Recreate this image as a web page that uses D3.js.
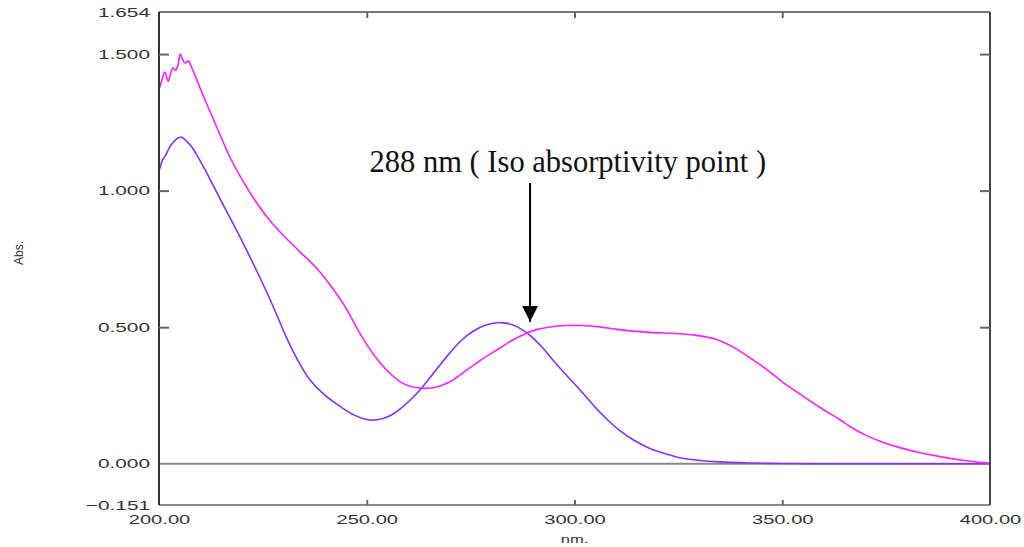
<!DOCTYPE html>
<html>
<head>
<meta charset="utf-8">
<script src="https://cdn.jsdelivr.net/npm/d3@7"></script>
<style>
  html, body { margin: 0; padding: 0; background: #fff; }
  svg { display: block; }
</style>
</head>
<body>
<div class="chart"></div>
<script>
// spectrum data (nm, absorbance)
const magentaNm = [200.0, 200.6, 201.4, 202.2, 202.8, 203.4, 204.0, 204.6, 205.1, 205.7, 206.3, 207.0, 207.9, 209.4,
  211.8, 214.2, 217.0, 220.0, 223.1, 226.2, 230.3, 234.0, 238.0, 241.9, 245.0, 247.7, 250.5, 253.2, 256.0, 258.5,
  261.1, 265.9, 270.0, 274.1, 278.0, 282.1, 285.0, 288.6, 291.0, 294.1, 298.0, 302.0, 306.0, 310.2, 318.2, 324.0,
  329.0, 334.0, 338.1, 342.0, 346.3, 350.0, 354.3, 359.0, 363.9, 367.0, 370.4, 374.0, 378.3, 383.0, 388.0, 393.0,
  398.3, 400.0];
const magentaAbs = [1.37, 1.40, 1.434, 1.40, 1.43, 1.45, 1.44, 1.46, 1.50, 1.48, 1.467, 1.475, 1.45, 1.394,
  1.306, 1.222, 1.125, 1.04, 0.965, 0.9, 0.83, 0.775, 0.715, 0.64, 0.57, 0.495, 0.425, 0.37, 0.325, 0.296,
  0.281, 0.278, 0.30, 0.344, 0.385, 0.424, 0.452, 0.479, 0.492, 0.501, 0.506, 0.506, 0.501, 0.492, 0.481, 0.477,
  0.471, 0.456, 0.428, 0.39, 0.345, 0.30, 0.255, 0.207, 0.161, 0.13, 0.102, 0.08, 0.059, 0.041, 0.026, 0.014,
  0.004, 0.002];

const purpleNm = [200.0, 200.8, 201.6, 202.6, 203.6, 204.6, 205.5, 206.3, 207.9, 209.5, 211.1, 213.0, 215.2,
  220.2, 226.0, 228.5, 230.8, 233.5, 236.3, 240.0, 243.6, 247.0, 250.0, 252.5, 255.6, 258.0, 262.1,
  266.0, 270.0, 273.0, 275.6, 278.5, 281.3, 283.5, 285.2, 287.3, 289.3, 292.0, 294.8, 298.0, 301.3, 304.5, 307.8,
  311.0, 314.1, 318.0, 322.3, 326.0, 330.2, 335.0, 339.8, 345.0, 350.0, 360.0, 380.0, 400.0];
const purpleAbs = [1.07, 1.11, 1.13, 1.16, 1.18, 1.193, 1.195, 1.186, 1.16, 1.12, 1.076, 1.02, 0.955,
  0.809, 0.626, 0.539, 0.458, 0.376, 0.308, 0.25, 0.21, 0.178, 0.162, 0.161, 0.176, 0.2, 0.258,
  0.33, 0.406, 0.455, 0.485, 0.507, 0.516, 0.515, 0.508, 0.492, 0.47, 0.43, 0.38, 0.325, 0.271, 0.215, 0.163,
  0.12, 0.088, 0.057, 0.035, 0.02, 0.012, 0.007, 0.004, 0.002, 0.001, 0, 0, 0];

// axis ticks
const yLabelTicks = [-0.151, 0, 0.5, 1.0, 1.5, 1.654];
const yInnerTicks = [0.5, 1.0, 1.5];
const xLabelTicks = [200, 250, 300, 350, 400];
const xInnerTicks = [250, 300, 350];

// annotation
const annoText = '288 nm ( Iso absorptivity point )';
const annoArrowNm = 289.3;
const annoArrowFrom = 1.028;
const annoArrowTo = 0.52;

const [width, height] = [1024, 547];
const margin = { top: 12, right: 34, bottom: 42, left: 159 };
const innerW = width - margin.left - margin.right;
const innerH = height - margin.top - margin.bottom;

const x = d3.scaleLinear().domain([200, 400]).range([0, innerW]);
const y = d3.scaleLinear().domain([-0.151, 1.654]).range([innerH, 0]);

const svg = d3.select('div.chart')
  .append('svg')
  .attr('width', width)
  .attr('height', height);

const g = svg.append('g').attr('transform', `translate(${margin.left},${margin.top})`);

// stretch label glyphs horizontally, like the instrument print-out
const stretch = (sel, k) => sel.each(function () {
  const len = this.getComputedTextLength();
  d3.select(this).attr('textLength', len * k).attr('lengthAdjust', 'spacingAndGlyphs');
});

// zero baseline
g.append('line')
  .attr('x1', 0).attr('x2', innerW)
  .attr('y1', y(0)).attr('y2', y(0))
  .attr('stroke', '#8a8a8a')
  .attr('stroke-width', 2);

// curves
const line = d3.line()
  .x(d => x(d[0]))
  .y(d => y(d[1]))
  .curve(d3.curveCatmullRom.alpha(0.5));

g.append('path')
  .datum(purpleNm.map((v, i) => [v, purpleAbs[i]]))
  .attr('d', line)
  .attr('fill', 'none')
  .attr('stroke', '#8433f5')
  .attr('stroke-width', 1.6);

g.append('path')
  .datum(magentaNm.map((v, i) => [v, magentaAbs[i]]))
  .attr('d', line)
  .attr('fill', 'none')
  .attr('stroke', '#ff20ff')
  .attr('stroke-width', 1.6);

// frame
const frameLines = [
  [0, 0, innerW, 0, '#777'],
  [0, innerH, innerW, innerH, '#888'],
  [0, 0, 0, innerH, '#333'],
  [innerW, 0, innerW, innerH, '#444']
];
g.selectAll('line.frame')
  .data(frameLines)
  .enter()
  .append('line')
  .attr('class', 'frame')
  .attr('x1', d => d[0]).attr('y1', d => d[1])
  .attr('x2', d => d[2]).attr('y2', d => d[3])
  .attr('stroke', d => d[4])
  .attr('stroke-width', 2);

// inward ticks
const tickStyle = sel => {
  sel.select('.domain').remove();
  sel.selectAll('.tick line').attr('stroke', '#666').attr('stroke-width', 2);
};
g.append('g')
  .call(d3.axisLeft(y).tickValues(yInnerTicks).tickSize(-10).tickFormat(''))
  .call(tickStyle);
g.append('g')
  .attr('transform', `translate(${innerW},0)`)
  .call(d3.axisRight(y).tickValues(yInnerTicks).tickSize(-10).tickFormat(''))
  .call(tickStyle);
g.append('g')
  .call(d3.axisTop(x).tickValues(xInnerTicks).tickSize(-6).tickFormat(''))
  .call(tickStyle);
g.append('g')
  .attr('transform', `translate(0,${innerH})`)
  .call(d3.axisBottom(x).tickValues(xInnerTicks).tickSize(-5).tickFormat(''))
  .call(tickStyle);

// tick labels
const yAxis = g.append('g')
  .call(d3.axisLeft(y).tickValues(yLabelTicks).tickSize(0).tickPadding(9).tickFormat(d3.format('.3f')));
yAxis.select('.domain').remove();
yAxis.selectAll('text')
  .attr('font-family', 'Liberation Sans, Arial, sans-serif')
  .attr('font-size', 13)
  .attr('fill', '#333')
  .call(stretch, 1.6);

const xAxis = g.append('g')
  .attr('transform', `translate(0,${innerH})`)
  .call(d3.axisBottom(x).tickValues(xLabelTicks).tickSize(0).tickPadding(10).tickFormat(d3.format('.2f')));
xAxis.select('.domain').remove();
xAxis.selectAll('text')
  .attr('font-family', 'Liberation Sans, Arial, sans-serif')
  .attr('font-size', 13)
  .attr('fill', '#333')
  .call(stretch, 1.55);

// axis titles
g.append('text')
  .attr('x', x(300))
  .attr('y', innerH + 38)
  .attr('text-anchor', 'middle')
  .attr('font-family', 'Liberation Sans, Arial, sans-serif')
  .attr('font-size', 11)
  .attr('fill', '#333')
  .text('nm.')
  .call(stretch, 1.5);

svg.append('text')
  .attr('transform', 'translate(23,253) rotate(-90)')
  .attr('text-anchor', 'middle')
  .attr('font-family', 'Liberation Sans, Arial, sans-serif')
  .attr('font-size', 12)
  .attr('fill', '#333')
  .text('Abs.');

// annotation
svg.append('defs').append('marker')
  .attr('id', 'arrow')
  .attr('viewBox', '0 0 10 10')
  .attr('refX', 10).attr('refY', 5)
  .attr('markerWidth', 16).attr('markerHeight', 16)
  .attr('markerUnits', 'userSpaceOnUse')
  .attr('orient', 'auto')
  .append('path')
  .attr('d', 'M0,0L10,5L0,10Z')
  .attr('fill', '#000');

g.append('line')
  .attr('x1', x(annoArrowNm)).attr('x2', x(annoArrowNm))
  .attr('y1', y(annoArrowFrom)).attr('y2', y(annoArrowTo))
  .attr('stroke', '#000')
  .attr('stroke-width', 2)
  .attr('marker-end', 'url(#arrow)');

g.append('text')
  .attr('x', x(298.4))
  .attr('y', y(1.068))
  .attr('text-anchor', 'middle')
  .attr('font-family', 'Liberation Serif, Times New Roman, serif')
  .attr('font-size', 30.5)
  .attr('fill', '#111')
  .text(annoText);
</script>
</body>
</html>
